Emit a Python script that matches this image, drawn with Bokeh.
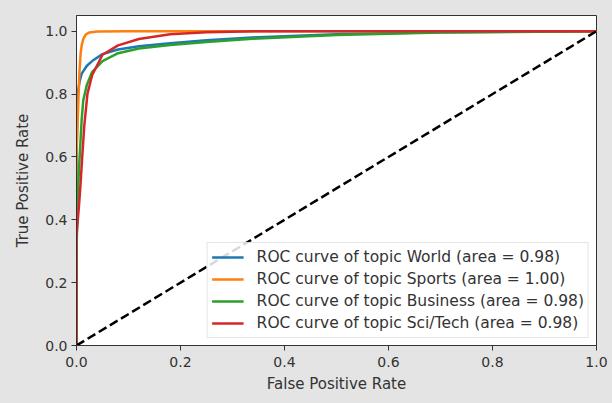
from bokeh.plotting import figure
from bokeh.models import Range1d, FixedTicker, Legend, LegendItem
from bokeh.embed import file_html
from bokeh.resources import INLINE

# ---- data ----
world_fpr = [0, 0, 0.001, 0.003, 0.006, 0.01, 0.02, 0.03, 0.05, 0.08, 0.12, 0.18, 0.25, 0.35, 0.5, 0.7, 1.0]
world_tpr = [0, 0.55, 0.74, 0.81, 0.84, 0.865, 0.89, 0.905, 0.927, 0.942, 0.952, 0.962, 0.971, 0.981, 0.99, 0.997, 1.0]

sports_fpr = [0, 0, 0.004, 0.006, 0.008, 0.01, 0.013, 0.018, 0.025, 0.04, 0.1, 1.0]
sports_tpr = [0, 0.6, 0.8, 0.88, 0.93, 0.955, 0.975, 0.99, 0.996, 0.999, 1.0, 1.0]

business_fpr = [0, 0, 0.003, 0.006, 0.01, 0.013, 0.02, 0.03, 0.05, 0.08, 0.12, 0.18, 0.25, 0.35, 0.5, 0.7, 1.0]
business_tpr = [0, 0.3, 0.5, 0.6, 0.72, 0.78, 0.83, 0.87, 0.905, 0.93, 0.945, 0.956, 0.966, 0.977, 0.988, 0.996, 1.0]

scitech_fpr = [0, 0, 0.005, 0.008, 0.011, 0.015, 0.021, 0.03, 0.05, 0.08, 0.12, 0.18, 0.25, 0.35, 0.5, 1.0]
scitech_tpr = [0, 0.35, 0.45, 0.52, 0.6, 0.7, 0.8, 0.86, 0.925, 0.955, 0.975, 0.99, 0.997, 1.0, 1.0, 1.0]

diag_x = [0, 1]
diag_y = [0, 1]

labels = [
    "ROC curve of topic World (area = 0.98)",
    "ROC curve of topic Sports (area = 1.00)",
    "ROC curve of topic Business (area = 0.98)",
    "ROC curve of topic Sci/Tech (area = 0.98)",
]
colors = ["#1f77b4", "#ff7f0e", "#2ca02c", "#d62728"]
ticks = [0.0, 0.2, 0.4, 0.6, 0.8, 1.0]
tick_labels = {0.0: "0.0", 0.2: "0.2", 0.4: "0.4", 0.6: "0.6", 0.8: "0.8", 1.0: "1.0"}

BG = "#e4e4e4"
FONT = "DejaVu Sans"
TXT = "#333333"

p = figure(width=612, height=403, output_backend="svg", toolbar_location=None,
           x_range=Range1d(0, 1), y_range=Range1d(0, 1.05),
           min_border_left=76, min_border_right=16, min_border_top=15, min_border_bottom=58)
p.background_fill_color = "white"
p.border_fill_color = BG
p.outline_line_color = "#333333"
p.outline_line_width = 1
p.grid.visible = False

series = [(world_fpr, world_tpr), (sports_fpr, sports_tpr),
          (business_fpr, business_tpr), (scitech_fpr, scitech_tpr)]
renderers = []
for (xs, ys), c in zip(series, colors):
    r = p.line(xs, ys, line_color=c, line_width=2.5)
    renderers.append(r)
p.line(diag_x, diag_y, line_color="black", line_width=2.5, line_dash="9 4")

legend = Legend(items=[LegendItem(label=l, renderers=[r]) for l, r in zip(labels, renderers)],
                location="bottom_right")
legend.margin = 7
legend.padding = 4
legend.spacing = 2
legend.glyph_width = 32
legend.glyph_height = 20
legend.label_height = 20
legend.label_standoff = 13
legend.label_text_font = FONT
legend.label_text_font_size = "15.5px"
legend.label_text_color = TXT
legend.border_line_color = "#cccccc"
legend.border_line_width = 1
legend.background_fill_color = "white"
legend.background_fill_alpha = 0.85
p.add_layout(legend)

for ax in (p.xaxis[0], p.yaxis[0]):
    ax.ticker = FixedTicker(ticks=ticks)
    ax.major_label_overrides = tick_labels
    ax.major_tick_in = 0
    ax.major_tick_out = 5
    ax.minor_tick_line_color = None
    ax.major_tick_line_color = "#333333"
    ax.axis_line_color = "#333333"
    ax.major_label_text_font = FONT
    ax.major_label_text_font_size = "14px"
    ax.major_label_text_color = TXT
    ax.axis_label_text_font = FONT
    ax.axis_label_text_font_size = "15px"
    ax.axis_label_text_font_style = "normal"
    ax.axis_label_text_color = TXT

p.xaxis.axis_label = "False Positive Rate"
p.yaxis.axis_label = "True Positive Rate"
p.xaxis.major_label_standoff = 6
p.xaxis.axis_label_standoff = 5
p.yaxis.major_label_standoff = 4
p.yaxis.axis_label_standoff = 10

html = file_html(p, INLINE)
html = html.replace("<head>", "<head><style>body{background:%s;}</style>" % BG, 1)
open("out.html", "w").write(html)
